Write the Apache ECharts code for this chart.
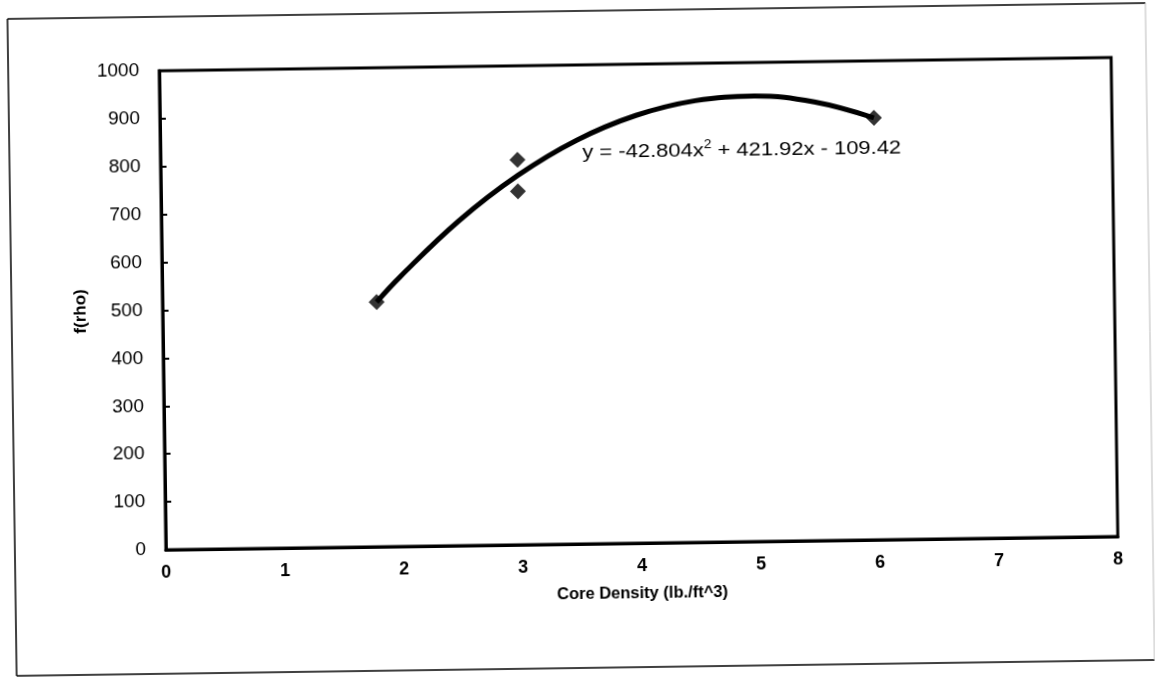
<!DOCTYPE html>
<html><head><meta charset="utf-8">
<script src="https://cdn.jsdelivr.net/npm/echarts@6/dist/echarts.min.js"></script>
<style>html,body{margin:0;padding:0;background:#fff;overflow:hidden}#c{width:1155px;height:679px;transform:rotate(-0.8deg);transform-origin:577px 340px}</style>
</head><body><div id="c"></div>
<script>
// ---- data ----
const xAxisRange = [0, 8];
const yAxisRange = [0, 1000];
const pointX = [1.8, 3.0, 3.0, 6.0];
const pointY = [511, 804, 738, 881];
const trendX = [1.8, 2.0, 2.5, 3.0, 3.5, 4.0, 4.5, 5.0, 5.5, 6.0];
const trendY = [511, 563, 678, 771, 843, 893, 922, 930, 916, 881];
const xTitle = 'Core Density (lb./ft^3)';
const yTitle = 'f(rho)';
const eqParts = ['y = -42.804x', '2', ' + 421.92x - 109.42'];

const chart = echarts.init(document.getElementById('c'), null, {renderer: 'canvas'});
const FONT = '"Liberation Sans", Arial, sans-serif';
const frame = {l: 12, t: 11, r: 1150, b: 668};
chart.setOption({
  animation: false,
  backgroundColor: '#fff',
  grid: {left: 163, right: 40, top: 65, bottom: 135, show: true, borderColor: '#000', borderWidth: 3, backgroundColor: 'transparent'},
  xAxis: {
    type: 'value', min: xAxisRange[0], max: xAxisRange[1], interval: 1,
    name: xTitle, nameLocation: 'middle', nameGap: 42,
    nameTextStyle: {fontFamily: FONT, fontSize: 16.5, fontWeight: 'bold', color: '#000'},
    axisLine: {show: true, lineStyle: {color: '#000', width: 3}},
    axisTick: {show: false},
    splitLine: {show: false},
    axisLabel: {fontFamily: FONT, fontSize: 18, fontWeight: 'bold', color: '#000', margin: 14, formatter: v => String(v)}
  },
  yAxis: {
    type: 'value', min: yAxisRange[0], max: yAxisRange[1], interval: 100,
    name: yTitle, nameLocation: 'middle', nameGap: 66, nameRotate: 90,
    nameTextStyle: {fontFamily: FONT, fontSize: 17, fontWeight: 'bold', color: '#000'},
    axisLine: {show: true, lineStyle: {color: '#000', width: 3}},
    axisTick: {show: true, inside: true, length: 6, lineStyle: {color: '#000', width: 2}},
    splitLine: {show: false},
    axisLabel: {fontFamily: FONT, fontSize: 19, color: '#000', margin: 20, formatter: v => String(v)}
  },
  graphic: [
    {type: 'line', shape: {x1: frame.l, y1: frame.t, x2: frame.r, y2: frame.t}, style: {stroke: '#000', lineWidth: 1.5}, silent: true},
    {type: 'line', shape: {x1: frame.l, y1: frame.t, x2: frame.l, y2: frame.b}, style: {stroke: '#000', lineWidth: 1.5}, silent: true},
    {type: 'line', shape: {x1: frame.l, y1: frame.b, x2: frame.r, y2: frame.b}, style: {stroke: '#000', lineWidth: 1.5}, silent: true},
    {type: 'line', shape: {x1: frame.r, y1: frame.t, x2: frame.r, y2: frame.b}, style: {stroke: '#bbb', lineWidth: 1}, silent: true},
    {type: 'text', x: 585, y: 141, scaleX: 1.155, silent: true,
      style: {
        text: '{a|' + eqParts[0] + '}{s|' + eqParts[1] + '}{a|' + eqParts[2] + '}',
        rich: {
          a: {fontFamily: FONT, fontSize: 19, fill: '#000', lineHeight: 21, verticalAlign: 'bottom'},
          s: {fontFamily: FONT, fontSize: 12, fill: '#000', lineHeight: 21, verticalAlign: 'top'}
        }
      }
    }
  ],
  series: [
    {
      type: 'line', data: trendX.map((x, i) => [x, trendY[i]]), smooth: 0.4,
      showSymbol: false, lineStyle: {color: '#000', width: 5}, z: 2
    },
    {
      type: 'scatter', data: pointX.map((x, i) => [x, pointY[i]]),
      symbol: 'diamond', symbolSize: 16, itemStyle: {color: '#000'}, z: 3
    }
  ]
});
</script></body></html>
